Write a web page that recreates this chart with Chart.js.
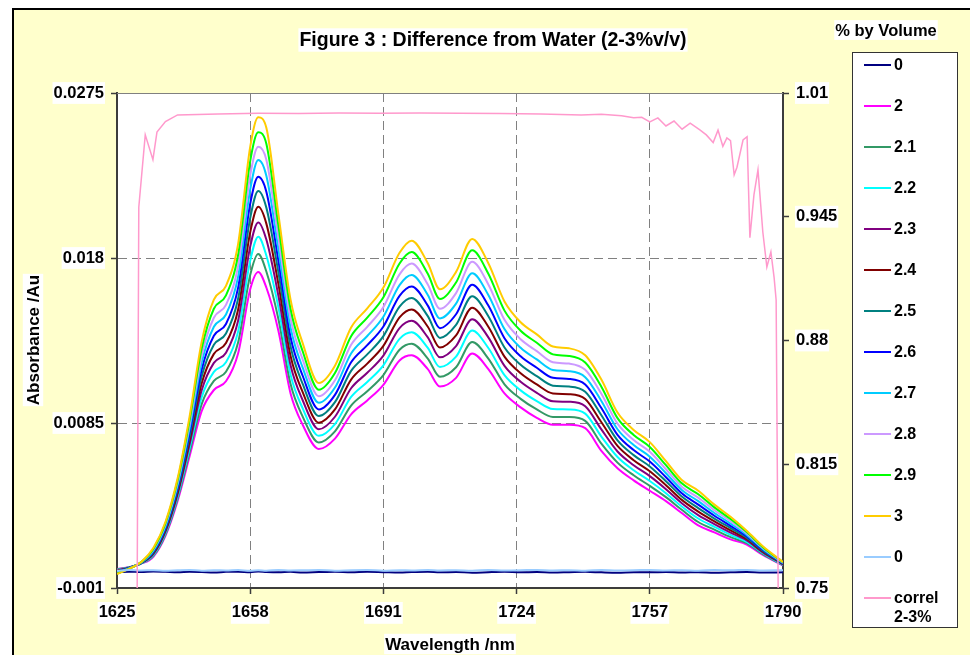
<!DOCTYPE html>
<html>
<head>
<meta charset="utf-8">
<title>Figure 3 : Difference from Water (2-3%v/v)</title>
<script src="https://cdn.jsdelivr.net/npm/chart.js@4.4.0/dist/chart.umd.min.js"></script>
<style>
  html, body { margin: 0; padding: 0; background: #fff; }
  #wrap { width: 970px; height: 655px; }
</style>
</head>
<body>
<div id="wrap"><canvas id="spectraChart" width="970" height="655"></canvas></div>
<script>
// ===== Data =====

const wavelengths = [1625, 1628, 1631, 1634, 1637, 1640, 1643, 1646, 1649, 1652,
  1655, 1658, 1660, 1662, 1665, 1668, 1671, 1675, 1679, 1683,
  1687, 1691, 1695, 1698, 1702, 1705, 1709, 1713, 1717, 1721,
  1725, 1729, 1733, 1737, 1741, 1745, 1749, 1753, 1757, 1761,
  1765, 1769, 1773, 1777, 1781, 1785, 1790];

const water0 = [-0.0001, -0.00006, -0.00008, -0.00005, -0.00007, -0.0001, -0.00006, -0.00008, -0.00011, -0.00007,
  -0.00006, -0.00009, -0.00005, -0.00008, -0.0001, -0.00007, -0.00011, -0.00008, -0.00006, -0.0001,
  -0.00007, -0.00009, -0.00011, -0.00008, -0.00006, -0.0001, -0.00008, -0.00012, -0.00009, -0.00007,
  -0.0001, -0.00008, -0.00011, -0.00009, -0.00007, -0.0001, -0.00012, -0.00009, -0.0001, -0.00008,
  -0.00011, -0.00009, -0.00012, -0.0001, -0.00008, -0.00011, -0.0001];

const vol2 = [0.0001, 0.0002, 0.0004, 0.0008, 0.002, 0.004, 0.0066, 0.0092, 0.0104, 0.0109,
  0.0125, 0.0162, 0.0172, 0.0163, 0.0138, 0.0102, 0.0084, 0.007, 0.0076, 0.009,
  0.0098, 0.0107, 0.0121, 0.0124, 0.0116, 0.0106, 0.0111, 0.0125, 0.0116, 0.0102,
  0.0094, 0.0088, 0.0084, 0.0084, 0.0082, 0.0069, 0.0059, 0.0052, 0.0046, 0.004,
  0.0033, 0.0026, 0.0022, 0.0018, 0.0015, 0.0009, 0.0003];

const vol21 = [0.00007, 0.00019, 0.00041, 0.00085, 0.00208, 0.00413, 0.00683, 0.0096, 0.01092, 0.01145,
  0.01313, 0.01702, 0.01823, 0.01722, 0.01447, 0.01074, 0.00887, 0.00738, 0.00802, 0.0095,
  0.01033, 0.01126, 0.01272, 0.01306, 0.01221, 0.01116, 0.01171, 0.01316, 0.01221, 0.01073,
  0.00989, 0.00928, 0.00885, 0.00884, 0.00862, 0.00731, 0.00622, 0.00549, 0.00488, 0.00423,
  0.00349, 0.0028, 0.00236, 0.00193, 0.00158, 0.00095, 0.00032];

const vol22 = [0.00004, 0.00018, 0.00042, 0.0009, 0.00216, 0.00426, 0.00706, 0.01, 0.01144, 0.012,
  0.01376, 0.01784, 0.01923, 0.01814, 0.01514, 0.01128, 0.00934, 0.00776, 0.00844, 0.01,
  0.01086, 0.01182, 0.01334, 0.01372, 0.01282, 0.01172, 0.01232, 0.01382, 0.01282, 0.01126,
  0.01038, 0.00976, 0.0093, 0.00928, 0.00904, 0.00772, 0.00654, 0.00578, 0.00516, 0.00446,
  0.00368, 0.003, 0.00252, 0.00206, 0.00166, 0.001, 0.00034];

const vol23 = [0.00001, 0.00017, 0.00043, 0.00095, 0.00224, 0.00439, 0.00729, 0.0104, 0.01196, 0.01255,
  0.01439, 0.01866, 0.02005, 0.01906, 0.01581, 0.01182, 0.00981, 0.00814, 0.00886, 0.0105,
  0.01139, 0.01238, 0.01396, 0.01438, 0.01343, 0.01228, 0.01293, 0.01448, 0.01343, 0.01179,
  0.01087, 0.01024, 0.00975, 0.00972, 0.00946, 0.00813, 0.00686, 0.00607, 0.00544, 0.00469,
  0.00387, 0.0032, 0.00268, 0.00219, 0.00174, 0.00105, 0.00036];

const vol24 = [-0.00002, 0.00016, 0.00044, 0.001, 0.00232, 0.00452, 0.00752, 0.0108, 0.01248, 0.0131,
  0.01502, 0.01948, 0.02095, 0.01998, 0.01648, 0.01236, 0.01028, 0.00852, 0.00928, 0.011,
  0.01192, 0.01294, 0.01458, 0.01504, 0.01404, 0.01284, 0.01354, 0.01514, 0.01404, 0.01232,
  0.01136, 0.01072, 0.0102, 0.01016, 0.00988, 0.00854, 0.00718, 0.00636, 0.00572, 0.00492,
  0.00406, 0.0034, 0.00284, 0.00232, 0.00182, 0.0011, 0.00038];

const vol25 = [-0.00005, 0.00015, 0.00045, 0.00105, 0.0024, 0.00465, 0.00775, 0.0112, 0.013, 0.01365,
  0.01565, 0.0203, 0.02186, 0.0209, 0.01715, 0.0129, 0.01075, 0.0089, 0.0097, 0.0115,
  0.01245, 0.0135, 0.0152, 0.0157, 0.01465, 0.0134, 0.01415, 0.0158, 0.01465, 0.01285,
  0.01185, 0.0112, 0.01065, 0.0106, 0.0103, 0.00895, 0.0075, 0.00665, 0.006, 0.00515,
  0.00425, 0.0036, 0.003, 0.00245, 0.0019, 0.00115, 0.0004];

const vol26 = [-0.00008, 0.00014, 0.00046, 0.0011, 0.00248, 0.00478, 0.00798, 0.0116, 0.01352, 0.0142,
  0.01628, 0.02112, 0.02268, 0.02182, 0.01782, 0.01344, 0.01122, 0.00928, 0.01012, 0.012,
  0.01298, 0.01406, 0.01582, 0.01636, 0.01526, 0.01396, 0.01476, 0.01646, 0.01526, 0.01338,
  0.01234, 0.01168, 0.0111, 0.01104, 0.01072, 0.00936, 0.00782, 0.00694, 0.00628, 0.00538,
  0.00444, 0.0038, 0.00316, 0.00258, 0.00198, 0.0012, 0.00042];

const vol27 = [-0.00011, 0.00013, 0.00047, 0.00115, 0.00256, 0.00491, 0.00821, 0.012, 0.01404, 0.01475,
  0.01691, 0.02194, 0.02364, 0.02274, 0.01849, 0.01398, 0.01169, 0.00966, 0.01054, 0.0125,
  0.01351, 0.01462, 0.01644, 0.01702, 0.01587, 0.01452, 0.01537, 0.01712, 0.01587, 0.01391,
  0.01283, 0.01216, 0.01155, 0.01148, 0.01114, 0.00977, 0.00814, 0.00723, 0.00656, 0.00561,
  0.00463, 0.004, 0.00332, 0.00271, 0.00206, 0.00125, 0.00044];

const vol28 = [-0.00014, 0.00012, 0.00048, 0.0012, 0.00264, 0.00504, 0.00844, 0.0124, 0.01456, 0.0153,
  0.01754, 0.02276, 0.02441, 0.02366, 0.01916, 0.01452, 0.01216, 0.01004, 0.01096, 0.013,
  0.01404, 0.01518, 0.01706, 0.01768, 0.01648, 0.01508, 0.01598, 0.01778, 0.01648, 0.01444,
  0.01332, 0.01264, 0.012, 0.01192, 0.01156, 0.01018, 0.00846, 0.00752, 0.00684, 0.00584,
  0.00482, 0.0042, 0.00348, 0.00284, 0.00214, 0.0013, 0.00046];

const vol29 = [-0.00017, 0.00011, 0.00049, 0.00125, 0.00272, 0.00517, 0.00867, 0.0128, 0.01508, 0.01585,
  0.01817, 0.02358, 0.02524, 0.02458, 0.01983, 0.01506, 0.01263, 0.01042, 0.01138, 0.0135,
  0.01457, 0.01574, 0.01768, 0.01834, 0.01709, 0.01564, 0.01659, 0.01844, 0.01709, 0.01497,
  0.01381, 0.01312, 0.01245, 0.01236, 0.01198, 0.01059, 0.00878, 0.00781, 0.00712, 0.00607,
  0.00501, 0.0044, 0.00364, 0.00297, 0.00222, 0.00135, 0.00048];

const vol3 = [-0.0002, 0.0001, 0.0005, 0.0013, 0.0028, 0.0053, 0.0089, 0.0132, 0.0156, 0.0164,
  0.0188, 0.0244, 0.0261, 0.0255, 0.0205, 0.0156, 0.0131, 0.0108, 0.0118, 0.014,
  0.0151, 0.0163, 0.0183, 0.019, 0.0177, 0.0162, 0.0172, 0.0191, 0.0177, 0.0155,
  0.0143, 0.0136, 0.0129, 0.0128, 0.0124, 0.011, 0.0091, 0.0081, 0.0074, 0.0063,
  0.0052, 0.0046, 0.0038, 0.0031, 0.0023, 0.0014, 0.0005];

const water0b = [0, 0.00003, 0.00001, 0.00002, -0.00001, 0.00002, 0.00004, 0, 0.00002, 0.00001,
  0.00003, -0.00001, 0.00002, 0, 0.00003, 0.00001, 0.00002, 0.00004, 0, 0.00002,
  0.00003, 0, 0.00002, 0.00001, 0.00004, 0.00001, 0.00002, 0, 0.00003, 0.00001,
  0.00002, 0.00004, 0.00001, 0.00002, 0, 0.00003, 0.00001, 0.00002, 0.00004, 0.00001,
  0.00002, 0, 0.00003, 0.00002, 0.00004, 0.00001, 0.00002];

// correlation 2-3% (right axis), own wavelength grid
const correlWl = [1630, 1630.4, 1632, 1633.9, 1634.9, 1637, 1640, 1650, 1660, 1670,
  1680, 1690, 1700, 1710, 1720, 1730, 1740, 1745, 1750, 1753,
  1755, 1757, 1759, 1761, 1763, 1765, 1767, 1769.4, 1771, 1772.7,
  1773.9, 1775.1, 1776.1, 1777, 1777.9, 1778.6, 1780.1, 1781.1, 1781.8, 1782.8,
  1783.8, 1785, 1786, 1787, 1787.8, 1788.3, 1788.8];
const correlVal = [0.75, 0.95, 0.988, 0.975, 0.9895, 0.995, 0.9985, 0.999, 0.9993, 0.9992,
  0.9995, 0.9994, 0.9995, 0.9994, 0.9992, 0.999, 0.9985, 0.9988, 0.998, 0.997,
  0.9972, 0.9948, 0.9969, 0.9927, 0.9953, 0.991, 0.9942, 0.9906, 0.988, 0.984,
  0.9905, 0.982, 0.9864, 0.985, 0.967, 0.971, 0.9853, 0.987, 0.934, 0.9565,
  0.9696, 0.937, 0.9186, 0.9265, 0.913, 0.9013, 0.75];

const seriesLabels = ["0", "2", "2.1", "2.2", "2.3", "2.4", "2.5", "2.6", "2.7", "2.8", "2.9", "3", "0"];
const seriesValues = [water0, vol2, vol21, vol22, vol23, vol24, vol25, vol26, vol27, vol28, vol29, vol3, water0b];
const seriesColors = ["#000080", "#FF00FF", "#339966", "#00FFFF", "#800080", "#800000", "#008080",
  "#0000FF", "#00CCFF", "#CC99FF", "#00FF00", "#FFCC00", "#99CCFF"];
const correlLabel = "correl 2-3%";
const correlColor = "#FF99CC";

const xTicks = [1625, 1658, 1691, 1724, 1757, 1790];
const yTicks = [-0.001, 0.0085, 0.018, 0.0275];
const y2Ticks = [0.75, 0.815, 0.88, 0.945, 1.01];

// ===== Helpers =====

const FONT = 'Arial, "Liberation Sans", sans-serif';
const AXIS_COLOR = "#3c3c3c";
const GRID_COLOR = "#808080";

function textWithBox(ctx, text, x, y, size, rotate) {
  ctx.save();
  ctx.font = `bold ${size}px ${FONT}`;
  ctx.translate(x, y);
  if (rotate) ctx.rotate(-Math.PI / 2);
  const w = ctx.measureText(text).width;
  ctx.fillStyle = "#fff";
  ctx.fillRect(-w / 2 - 1, -size * 0.6, w + 2, size * 1.2);
  ctx.fillStyle = "#000";
  ctx.textAlign = "center";
  ctx.textBaseline = "middle";
  ctx.fillText(text, 0, 1);
  ctx.restore();
}

function innerGrid(ticks) {
  return (c) => {
    const v = c.tick ? c.tick.value : null;
    return (v === ticks[0] || v === ticks[ticks.length - 1]) ? "rgba(0,0,0,0)" : GRID_COLOR;
  };
}

// ===== Plugins: background, titles, legend =====

const frame = {
  id: "frame",
  beforeDraw(chart) {
    const ctx = chart.ctx;
    const a = chart.chartArea;
    ctx.save();
    ctx.fillStyle = "#fff";
    ctx.fillRect(0, 0, chart.width, chart.height);
    ctx.fillStyle = "#FFFFCC";
    ctx.fillRect(12, 8, chart.width - 12, chart.height - 8);
    ctx.strokeStyle = "#000";
    ctx.lineWidth = 2;
    ctx.beginPath();
    ctx.moveTo(13, chart.height);
    ctx.lineTo(13, 9);
    ctx.lineTo(chart.width, 9);
    ctx.stroke();
    ctx.fillStyle = "#fff";
    ctx.fillRect(a.left, a.top, a.right - a.left, a.bottom - a.top);
    ctx.restore();
  },
  afterDraw(chart) {
    const ctx = chart.ctx;
    const a = chart.chartArea;
    ctx.save();
    ctx.strokeStyle = GRID_COLOR;
    ctx.lineWidth = 1;
    ctx.beginPath();
    ctx.moveTo(a.left, a.top + 0.5);
    ctx.lineTo(a.right, a.top + 0.5);
    ctx.stroke();
    ctx.restore();

    textWithBox(ctx, "Figure 3 : Difference from Water (2-3%v/v)", 493, 40, 19.5, false);
    textWithBox(ctx, "Absorbance /Au", 33, 340, 17, true);
    textWithBox(ctx, "Wavelength /nm", 450, 644, 17, false);

    // legend
    const bx = 852.5, by = 52.5, bw = 105, bh = 575;
    textWithBox(ctx, "% by Volume", 886, 30, 16.5, false);
    ctx.save();
    ctx.fillStyle = "#fff";
    ctx.fillRect(bx, by, bw, bh);
    ctx.strokeStyle = "#333";
    ctx.lineWidth = 1;
    ctx.strokeRect(bx, by, bw, bh);
    ctx.font = `bold 16px ${FONT}`;
    ctx.textBaseline = "middle";
    ctx.textAlign = "left";
    chart.data.datasets.forEach((ds, i) => {
      const y = 65 + i * 41;
      ctx.strokeStyle = ds.borderColor;
      ctx.lineWidth = 2;
      ctx.beginPath();
      ctx.moveTo(864, y);
      ctx.lineTo(891, y);
      ctx.stroke();
      ctx.fillStyle = "#000";
      ds.label.split(" ").forEach((part, k) => {
        ctx.fillText(part, 894, y + 1 + k * 19);
      });
    });
    ctx.restore();
  }
};

// ===== Chart =====

const datasets = seriesLabels.map((lab, i) => ({
  label: lab,
  data: seriesValues[i].map((v, j) => ({ x: wavelengths[j], y: v })),
  borderColor: seriesColors[i],
  borderWidth: 2,
  pointRadius: 0,
  cubicInterpolationMode: "monotone",
  yAxisID: "y",
  order: -i
}));

datasets.push({
  label: correlLabel,
  data: correlVal.map((v, j) => ({ x: correlWl[j], y: v })),
  borderColor: correlColor,
  borderWidth: 1.5,
  pointRadius: 0,
  tension: 0,
  yAxisID: "y2",
  order: -20
});

const tickFont = { family: FONT, size: 16.5, weight: "bold" };

new Chart(document.getElementById("spectraChart"), {
  type: "line",
  data: { datasets: datasets },
  plugins: [frame],
  options: {
    responsive: false,
    animation: false,
    devicePixelRatio: 1,
    layout: { padding: { top: 93, left: 0, right: 0, bottom: 0 } },
    plugins: { legend: { display: false }, tooltip: { enabled: false }, title: { display: false } },
    scales: {
      x: {
        type: "linear",
        min: 1625,
        max: 1790,
        afterBuildTicks: (s) => { s.ticks = xTicks.map(v => ({ value: v })); },
        afterFit: (s) => { s.height = 67; },
        ticks: {
          font: tickFont, color: "#000", padding: 9, maxRotation: 0,
          showLabelBackdrop: true, backdropColor: "#fff", backdropPadding: 1,
          callback: (v) => String(v)
        },
        grid: { color: innerGrid(xTicks), tickColor: AXIS_COLOR, tickLength: 6, tickWidth: 1.5 },
        border: { color: AXIS_COLOR, width: 2, dash: [9, 5] }
      },
      y: {
        position: "left",
        min: -0.001,
        max: 0.0275,
        afterBuildTicks: (s) => { s.ticks = yTicks.map(v => ({ value: v })); },
        afterFit: (s) => { s.width = 117; },
        ticks: {
          font: tickFont, color: "#000", padding: 7,
          showLabelBackdrop: true, backdropColor: "#fff", backdropPadding: 1,
          callback: (v) => String(v)
        },
        grid: { color: innerGrid(yTicks), tickColor: AXIS_COLOR, tickLength: 6, tickWidth: 1.5 },
        border: { color: AXIS_COLOR, width: 2, dash: [9, 5] }
      },
      y2: {
        position: "right",
        min: 0.75,
        max: 1.01,
        afterBuildTicks: (s) => { s.ticks = y2Ticks.map(v => ({ value: v })); },
        afterFit: (s) => { s.width = 187; },
        ticks: {
          font: tickFont, color: "#000", padding: 7,
          showLabelBackdrop: true, backdropColor: "#fff", backdropPadding: 1,
          callback: (v) => String(v)
        },
        grid: { drawOnChartArea: false, tickColor: AXIS_COLOR, tickLength: 6, tickWidth: 1.5 },
        border: { color: AXIS_COLOR, width: 2 }
      }
    }
  }
});
</script>
</body>
</html>
